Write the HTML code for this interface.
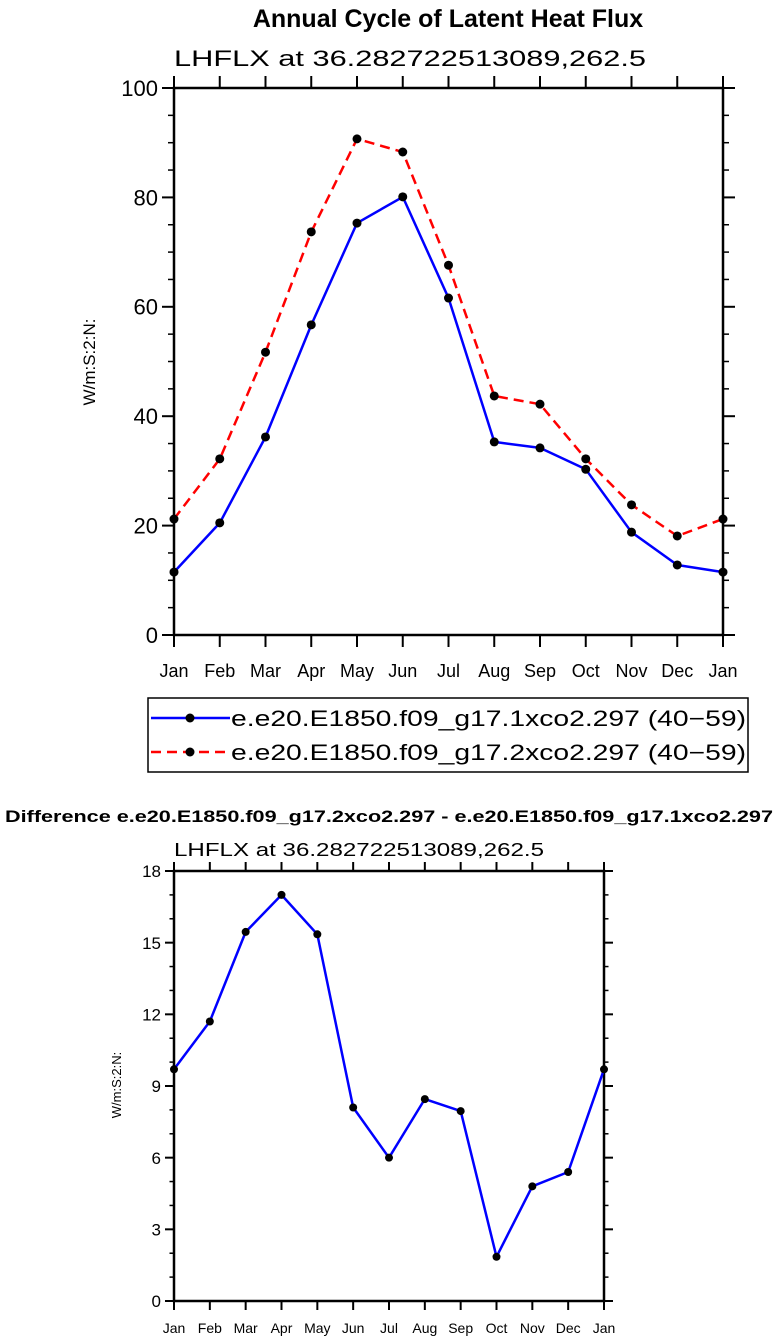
<!DOCTYPE html>
<html><head><meta charset="utf-8"><style>
html,body{margin:0;padding:0;background:#fff}
svg{display:block;font-family:"Liberation Sans",sans-serif}
</style></head><body>
<svg id="s" width="778" height="1343" viewBox="0 0 778 1343">
<text x="448" y="27" font-size="25" font-weight="bold" text-anchor="middle">Annual Cycle of Latent Heat Flux</text>
<text x="174" y="66" font-size="22" textLength="472" lengthAdjust="spacingAndGlyphs">LHFLX  at  36.282722513089,262.5</text>
<text transform="translate(95,362) rotate(-90)" font-size="17" text-anchor="middle">W/m:S:2:N:</text>
<g>
<rect x="148" y="698" width="600" height="74" fill="none" stroke="#000" stroke-width="1.5"/>
<line x1="151" y1="718" x2="230" y2="718" stroke="#0000ff" stroke-width="2.5"/>
<circle cx="190" cy="718" r="4.5" fill="#000"/>
<text x="231" y="726" font-size="22" textLength="515" lengthAdjust="spacingAndGlyphs">e.e20.E1850.f09_g17.1xco2.297 (40−59)</text>
<line x1="151" y1="752" x2="230" y2="752" stroke="#ff0000" stroke-width="2.5" stroke-dasharray="10,6"/>
<circle cx="190" cy="752" r="4.5" fill="#000"/>
<text x="231" y="760" font-size="22" textLength="515" lengthAdjust="spacingAndGlyphs">e.e20.E1850.f09_g17.2xco2.297 (40−59)</text>
</g>
<text x="389" y="822" font-size="17" font-weight="bold" text-anchor="middle" textLength="768" lengthAdjust="spacingAndGlyphs">Difference e.e20.E1850.f09_g17.2xco2.297 - e.e20.E1850.f09_g17.1xco2.297</text>
<text x="174" y="856" font-size="18" textLength="370" lengthAdjust="spacingAndGlyphs">LHFLX  at  36.282722513089,262.5</text>
<text transform="translate(121,1085) rotate(-90)" font-size="13" text-anchor="middle">W/m:S:2:N:</text>
</svg>
<script>
const months = ["Jan","Feb","Mar","Apr","May","Jun","Jul","Aug","Sep","Oct","Nov","Dec","Jan"];
const series1xco2 = [11.5,20.5,36.2,56.7,75.3,80.1,61.6,35.3,34.2,30.3,18.8,12.8,11.5];
const series2xco2 = [21.2,32.2,51.7,73.7,90.7,88.3,67.6,43.7,42.2,32.2,23.8,18.1,21.2];
const diffValues = [9.7,11.7,15.45,17.0,15.35,8.1,6.0,8.45,7.95,1.85,4.8,5.4,9.7];
const topTicks = [0,20,40,60,80,100];
const diffTicks = [0,3,6,9,12,15,18];

const svg = document.getElementById('s');
const NS = 'http://www.w3.org/2000/svg';
function mk(tag, attrs, parent){
  const e = document.createElementNS(NS, tag);
  for (const k in attrs) e.setAttribute(k, attrs[k]);
  (parent||svg).appendChild(e);
  return e;
}

function panel(cfg){
  const g = mk('g', {});
  
  
  const x = i => cfg.x0 + (cfg.x1 - cfg.x0) * i / (months.length - 1);
  const y = v => cfg.y0 - (cfg.y0 - cfg.y1) * (v - cfg.vmin) / (cfg.vmax - cfg.vmin);
  const fr = mk('rect', {x:cfg.x0, y:cfg.y1, width:cfg.x1-cfg.x0, height:cfg.y0-cfg.y1, fill:'none', stroke:'#000', 'stroke-width':2.5}, g);
  
  
  months.forEach((m, i) => {
    const xx = x(i);
    mk('line', {x1:xx, x2:xx, y1:cfg.y0, y2:cfg.y0+cfg.maj, stroke:'#000', 'stroke-width':2}, g);
    mk('line', {x1:xx, x2:xx, y1:cfg.y1, y2:cfg.y1-cfg.maj, stroke:'#000', 'stroke-width':2}, g);
    const t = mk('text', {x:xx, y:cfg.y0+cfg.xlabOff, 'font-size':cfg.xfs, 'text-anchor':'middle'}, g);
    t.textContent = m;
    
    
  });
  cfg.ticks.forEach((v, i) => {
    const yy = y(v);
    mk('line', {x1:cfg.x0-cfg.maj, x2:cfg.x0, y1:yy, y2:yy, stroke:'#000', 'stroke-width':2}, g);
    mk('line', {x1:cfg.x1, x2:cfg.x1+cfg.maj, y1:yy, y2:yy, stroke:'#000', 'stroke-width':2}, g);
    const t = mk('text', {x:cfg.x0-cfg.maj-4, y:yy+cfg.yfs*0.36, 'font-size':cfg.yfs, 'text-anchor':'end'}, g);
    t.textContent = v;
    
    
    if (i < cfg.ticks.length - 1) {
      const step = (cfg.ticks[i+1] - v) / cfg.minorN;
      for (let k = 1; k < cfg.minorN; k++) {
        const my = y(v + step * k);
        mk('line', {x1:cfg.x0-cfg.maj/2, x2:cfg.x0, y1:my, y2:my, stroke:'#000', 'stroke-width':1.5}, g);
        mk('line', {x1:cfg.x1, x2:cfg.x1+cfg.maj/2, y1:my, y2:my, stroke:'#000', 'stroke-width':1.5}, g);
      }
    }
  });
  cfg.series.forEach(s => {
    const pts = s.vals.map((v, i) => x(i).toFixed(1) + ',' + y(v).toFixed(1)).join(' ');
    const pl = mk('polyline', {points:pts, fill:'none', stroke:s.color, 'stroke-width':cfg.lw, 'stroke-dasharray':s.dash||'none', 'stroke-linejoin':'round'}, g);
    
    
    s.vals.forEach((v, i) => {
      const c = mk('circle', {cx:x(i), cy:y(v), r:cfg.r, fill:'#000'}, g);
      
      
    });
  });
}

panel({name:'top-plot', x0:174, x1:723, y0:635, y1:88, vmin:0, vmax:100, ticks:topTicks, minorN:4,
  maj:12, xfs:18, yfs:22, xlabOff:42, lw:2.5, r:4.5,
  series:[{name:'series-1xco2-line', vals:series1xco2, color:'#0000ff'},
          {name:'series-2xco2-line', vals:series2xco2, color:'#ff0000', dash:'10,6'}]});
panel({name:'diff-plot', x0:174, x1:604, y0:1301, y1:871, vmin:0, vmax:18, ticks:diffTicks, minorN:3,
  maj:9, xfs:14, yfs:17, xlabOff:32, lw:2.5, r:4,
  series:[{name:'diff-line', vals:diffValues, color:'#0000ff'}]});
</script>
</body></html>
